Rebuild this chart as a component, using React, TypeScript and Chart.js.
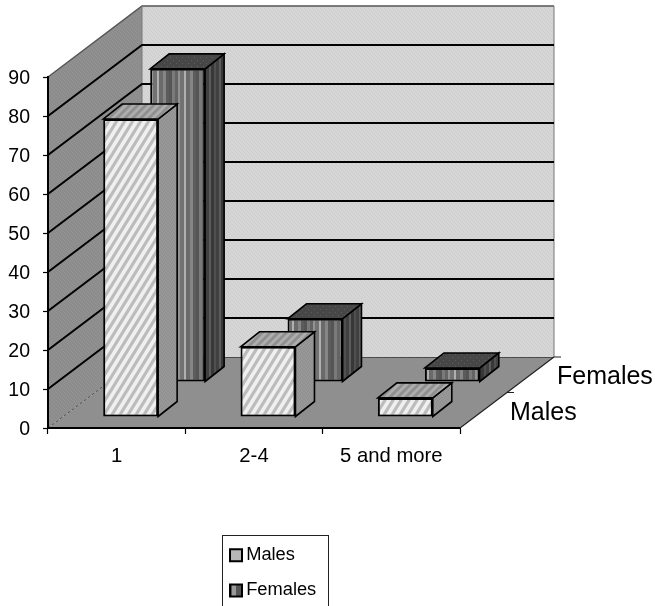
import React, { useEffect, useRef } from "react";
import { Chart, registerables } from "chart.js";

Chart.register(...registerables);

const categories = ["1", "2-4", "5 and more"];
const seriesNames = ["Males", "Females"];
const males = [76.4, 18, 4.9];
const females = [80.3, 16.2, 3.6];
const yMax = 90;
const yStep = 10;

const W = 655;
const H = 606;
const AREA = { left: 48, right: 460, top: 77, bottom: 428 };
const WALL = { dx: 94, dy: -71 };
const BAR_DEPTH = { dx: 19, dy: -15 };
const SHIFT = [{ dx: 14, dy: -11 }, { dx: 61, dy: -46 }];
const FONT = "'Liberation Sans', Arial, sans-serif";

function tile(w: number, h: number, paint: (c: CanvasRenderingContext2D) => void, ctx: CanvasRenderingContext2D) {
  const cv = document.createElement("canvas");
  cv.width = w;
  cv.height = h;
  const c = cv.getContext("2d")!;
  paint(c);
  return ctx.createPattern(cv, "repeat")!;
}

function diagonal(base: string, stripe: string, w: number, h: number, lw: number) {
  return (c: CanvasRenderingContext2D) => {
    c.fillStyle = base;
    c.fillRect(0, 0, w, h);
    c.strokeStyle = stripe;
    c.lineWidth = lw;
    for (let k = -1; k <= 1; k++) {
      c.beginPath();
      c.moveTo(k * w - w * 0.25, h * 1.25);
      c.lineTo(k * w + w * 1.25, -h * 0.25);
      c.stroke();
    }
  };
}

function vertical(shades: string[], widths: number[], h = 4) {
  return (c: CanvasRenderingContext2D) => {
    let x = 0;
    shades.forEach((s, i) => {
      c.fillStyle = s;
      c.fillRect(x, 0, widths[i], h);
      x += widths[i];
    });
  };
}

function dither(a: string, b: string) {
  return (c: CanvasRenderingContext2D) => {
    c.fillStyle = a;
    c.fillRect(0, 0, 4, 4);
    c.fillStyle = b;
    c.fillRect(0, 0, 1, 1);
    c.fillRect(2, 1, 1, 1);
    c.fillRect(1, 2, 1, 1);
    c.fillRect(3, 3, 1, 1);
  };
}

function path(c: CanvasRenderingContext2D, pts: number[][]) {
  c.beginPath();
  pts.forEach((p, i) => (i ? c.lineTo(p[0], p[1]) : c.moveTo(p[0], p[1])));
  c.closePath();
}

export default function App() {
  const ref = useRef<HTMLCanvasElement>(null);

  useEffect(() => {
    const cv = ref.current!;
    const ctx = cv.getContext("2d")!;

    const maleFront = tile(8, 13, diagonal("#f0f0f0", "#bcbcbc", 8, 13, 3.2), ctx);
    const maleSide = tile(4, 4, dither("#979797", "#8e8e8e"), ctx);
    const maleTop = tile(8, 8, diagonal("#aeaeae", "#909090", 8, 8, 3), ctx);
    const femaleFront = tile(
      27, 4,
      vertical(
        ["#555555", "#7a7a7a", "#646464", "#929292", "#727272", "#b0b0b0", "#6a6a6a", "#868686", "#5c5c5c"],
        [3, 3, 3, 2, 4, 2, 4, 3, 3]
      ),
      ctx
    );
    const femaleSide = tile(10, 4, vertical(["#383838", "#505050", "#404040", "#5c5c5c"], [3, 2, 3, 2]), ctx);
    const femaleTop = tile(6, 6, (c) => {
      c.fillStyle = "#474747";
      c.fillRect(0, 0, 6, 6);
      c.fillStyle = "#5e5e5e";
      c.fillRect(1, 1, 1, 1);
      c.fillRect(4, 4, 1, 1);
    }, ctx);
    const backWall = tile(4, 4, dither("#d6d6d6", "#cdcdcd"), ctx);
    const sideWall = tile(4, 4, dither("#8c8c8c", "#949494"), ctx);

    const sides = [maleSide, femaleSide];
    const tops = [maleTop, femaleTop];

    const walls = {
      id: "walls",
      beforeDraw(chart: any) {
        const c = chart.ctx as CanvasRenderingContext2D;
        const y = chart.scales.y;
        const { left, right } = chart.chartArea;
        const y0 = y.getPixelForValue(0);
        const yT = y.getPixelForValue(yMax);
        const { dx, dy } = WALL;
        c.save();
        path(c, [[left, y0], [left, yT], [left + dx, yT + dy], [left + dx, y0 + dy]]);
        c.fillStyle = sideWall;
        c.fill();
        path(c, [[left + dx, y0 + dy], [left + dx, yT + dy], [right + dx, yT + dy], [right + dx, y0 + dy]]);
        c.fillStyle = backWall;
        c.fill();
        path(c, [[left, y0], [left + dx, y0 + dy], [right + dx, y0 + dy], [right, y0]]);
        c.fillStyle = "#8f8f8f";
        c.fill();

        c.strokeStyle = "#555";
        c.lineWidth = 1.5;
        c.beginPath();
        c.moveTo(left, yT);
        c.lineTo(left + dx, yT + dy);
        c.lineTo(right + dx, yT + dy);
        c.stroke();
        c.strokeStyle = "#777";
        c.lineWidth = 1;
        c.beginPath();
        c.moveTo(right + dx, yT + dy);
        c.lineTo(right + dx, y0 + dy);
        c.moveTo(left + dx, yT + dy);
        c.lineTo(left + dx, y0 + dy);
        c.stroke();
        c.strokeStyle = "#555";
        c.setLineDash([3, 2]);
        c.beginPath();
        c.moveTo(left, y0);
        c.lineTo(left + dx, y0 + dy);
        c.stroke();
        c.setLineDash([]);
        c.strokeStyle = "#4a4a4a";
        c.beginPath();
        c.moveTo(left + dx, y0 + dy + 0.5);
        c.lineTo(right + dx, y0 + dy + 0.5);
        c.stroke();

        c.strokeStyle = "#000";
        c.lineWidth = 2;
        c.beginPath();
        for (let v = yStep; v < yMax; v += yStep) {
          const p = y.getPixelForValue(v);
          c.moveTo(left, p);
          c.lineTo(left + dx, p + dy);
          c.lineTo(right + dx, p + dy);
        }
        c.stroke();
        c.restore();
      },
    };

    const depth = {
      id: "depth",
      beforeDatasetDraw(chart: any, args: any) {
        const c = chart.ctx as CanvasRenderingContext2D;
        const s = SHIFT[args.index];
        c.save();
        c.translate(s.dx, s.dy);
      },
      afterDatasetDraw(chart: any, args: any) {
        const c = chart.ctx as CanvasRenderingContext2D;
        const i = args.index;
        const { dx, dy } = BAR_DEPTH;
        args.meta.data.forEach((el: any) => {
          const { x, y, base, width } = el.getProps(["x", "y", "base", "width"], true);
          const l = x - width / 2;
          const r = x + width / 2;
          c.lineWidth = 1.6;
          c.strokeStyle = "#000";
          path(c, [[r, y], [r + dx, y + dy], [r + dx, base + dy], [r, base]]);
          c.fillStyle = sides[i];
          c.fill();
          c.stroke();
          path(c, [[l, y], [l + dx, y + dy], [r + dx, y + dy], [r, y]]);
          c.fillStyle = tops[i];
          c.fill();
          c.stroke();
        });
        c.restore();
      },
    };

    const overlay = {
      id: "overlay",
      afterLayout(chart: any) {
        const lg = chart.legend;
        lg.left = 218;
        lg.right = lg.left + 110;
        lg.top = 529;
        lg.bottom = 640;
      },
      afterDraw(chart: any) {
        const c = chart.ctx as CanvasRenderingContext2D;
        const y0 = chart.scales.y.getPixelForValue(0);
        const right = chart.chartArea.right;
        const { dx, dy } = WALL;
        c.save();
        // right floor edge with its depth ticks
        c.strokeStyle = "#222";
        c.lineWidth = 1.2;
        c.beginPath();
        c.moveTo(right, y0);
        c.lineTo(right + dx, y0 + dy);
        c.moveTo(right + dx, y0 + dy);
        c.lineTo(right + dx + 7, y0 + dy);
        c.moveTo(right + dx / 2, y0 + dy / 2);
        c.lineTo(right + dx / 2 + 7, y0 + dy / 2);
        c.stroke();
        // depth axis labels
        c.fillStyle = "#000";
        c.font = `25px ${FONT}`;
        c.textAlign = "left";
        c.textBaseline = "alphabetic";
        c.fillText(seriesNames[1], 557, 384);
        c.fillText(seriesNames[0], 510, 420);
        // legend frame
        c.strokeStyle = "#222";
        c.lineWidth = 1;
        c.strokeRect(222.5, 535.5, 106, 90);
        c.restore();
      },
    };

    const legendFills = [
      "#b8b8b8",
      tile(12, 12, vertical(["#555555", "#9a9a9a", "#555555"], [4, 4, 4], 12), ctx),
    ];

    const chart = new Chart(cv, {
      type: "bar",
      data: {
        labels: categories,
        datasets: [
          {
            label: seriesNames[0],
            data: males,
            backgroundColor: maleFront,
            borderColor: "#000",
            borderWidth: 2,
            borderSkipped: false,
            grouped: false,
            barPercentage: 0.4,
            categoryPercentage: 1,
            clip: false,
          },
          {
            label: seriesNames[1],
            data: females,
            backgroundColor: femaleFront,
            borderColor: "#000",
            borderWidth: 2,
            borderSkipped: false,
            grouped: false,
            barPercentage: 0.4,
            categoryPercentage: 1,
            clip: false,
          },
        ],
      } as any,
      options: {
        animation: false,
        responsive: false,
        devicePixelRatio: 1,
        events: [],
        layout: { padding: { left: 0, right: W - AREA.right, top: AREA.top, bottom: 0 } },
        plugins: {
          tooltip: { enabled: false },
          legend: {
            display: true,
            position: "chartArea",
            align: "start",
            labels: {
              usePointStyle: true,
              boxWidth: 2,
              boxHeight: 12,
              padding: 17,
              color: "#000",
              font: { family: FONT, size: 18.3 },
              generateLabels: () =>
                seriesNames.map((name, i) => ({
                  text: name,
                  fillStyle: legendFills[i],
                  strokeStyle: "#000",
                  lineWidth: 2,
                  pointStyle: "rect",
                  datasetIndex: i,
                  hidden: false,
                })),
            },
          },
        },
        scales: {
          x: {
            afterFit: (s: any) => { s.height = H - AREA.bottom; },
            grid: { display: true, drawOnChartArea: false, drawTicks: true, tickLength: 6, tickColor: "#000", tickWidth: 1.2 },
            border: { display: true, color: "#000", width: 2 },
            ticks: { color: "#000", padding: 10.5, maxRotation: 0, font: { family: FONT, size: 20.3 } },
          },
          y: {
            min: 0,
            max: yMax,
            afterFit: (s: any) => { s.width = AREA.left; },
            grid: { display: true, drawOnChartArea: false, drawTicks: true, tickLength: 5, tickColor: "#000", tickWidth: 1.2 },
            border: { display: true, color: "#000", width: 2 },
            ticks: { stepSize: yStep, color: "#000", padding: 13, labelOffset: 2, font: { family: FONT, size: 19.5 } },
          },
        },
      },
      plugins: [walls, depth, overlay],
    } as any);

    return () => chart.destroy();
  }, []);

  return (
    <div style={{ position: "fixed", left: 0, top: 0, width: W, height: H, background: "#fff", overflow: "hidden" }}>
      <canvas ref={ref} width={W} height={H} style={{ display: "block" }} />
    </div>
  );
}
